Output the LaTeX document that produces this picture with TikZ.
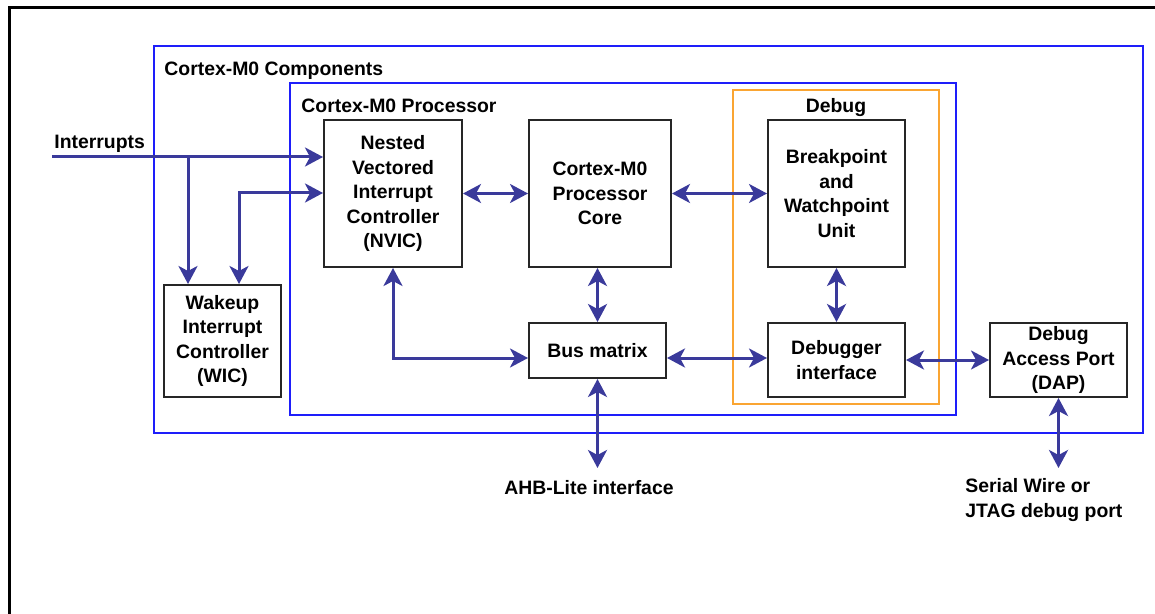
\documentclass[tikz,border=0pt]{standalone}
\usepackage{fontspec}
\setmainfont{Liberation Sans}
\usetikzlibrary{arrows.meta}
\definecolor{arrowc}{RGB}{58,58,155}
\definecolor{regionblue}{RGB}{30,30,250}
\definecolor{dbgorange}{RGB}{250,165,50}
\begin{document}
\begin{tikzpicture}[x=0.5pt,y=-0.5pt,
  lbl/.style={font=\fontsize{9.7}{12.25}\selectfont\bfseries, inner sep=0pt},
  blk/.style={draw=black!85, line width=1pt, fill=white, align=center,
     inner sep=0pt, font=\fontsize{9.7}{12.25}\selectfont\bfseries},
  region/.style={draw=regionblue, line width=1pt},
  dbgregion/.style={draw=dbgorange, line width=1pt},
  conn/.style={draw=arrowc, line width=1.5pt},
  bi/.style={conn, {Stealth[length=9pt,width=9.5pt,inset=2.5pt]}-{Stealth[length=9pt,width=9.5pt,inset=2.5pt]}},
  uni/.style={conn, -{Stealth[length=9pt,width=9.5pt,inset=2.5pt]}}
]
\useasboundingbox (0,0) rectangle (1155,614);
% outer frame (partially visible)
\draw[line width=1.5pt, black] (9,614) -- (9,8) -- (1155,8);

% regions
\draw[region] (154,46) rectangle (1143,433);
\draw[region] (290,83) rectangle (956,415);
\draw[dbgregion] (733,90) rectangle (939,404);

\node[lbl, anchor=base west] (lcomp) at (164,76) {Cortex-M0 Components};
\node[lbl, anchor=base west] (lproc) at (301,113) {Cortex-M0 Processor};
\node[lbl, anchor=base] (ldbg) at (836,113) {Debug};

% blocks
\node[blk, minimum width=69pt, minimum height=73.5pt] (nvic) at (393,193.5)
  {Nested\\Vectored\\Interrupt\\Controller\\(NVIC)};
\node[blk, minimum width=71pt, minimum height=73.5pt] (core) at (600,193.5)
  {Cortex-M0\\Processor\\Core};
\node[blk, minimum width=68.5pt, minimum height=73.5pt] (bwu) at (836.5,193.5)
  {Breakpoint\\and\\Watchpoint\\Unit};
\node[blk, minimum width=68.5pt, minimum height=27.5pt] (bus) at (597.5,350.5)
  {Bus matrix};
\node[blk, minimum width=68.5pt, minimum height=37pt] (dbgi) at (836.5,360)
  {Debugger\\interface};
\node[blk, minimum width=68.5pt, minimum height=37pt] (dap) at (1058.5,360)
  {Debug\\Access Port\\(DAP)};
\node[blk, minimum width=58.5pt, minimum height=56pt] (wic) at (222.5,341)
  {Wakeup\\Interrupt\\Controller\\(WIC)};

% external labels
\node[lbl, anchor=base west] (lint) at (54,149) {Interrupts};
\node[lbl, anchor=base] (lahb) at (589,494) {AHB-Lite interface};
\node[lbl, anchor=base west, align=left] (lswd) at (965,517) {Serial Wire or\\JTAG debug port};

% coordinates
\coordinate (intstart) at (52,157);
\coordinate (intbranch) at (188,157);
\coordinate (wicret) at (239,193);
\coordinate (nvicbus) at (393,358);
\coordinate (ahbend) at (597.5,468);
\coordinate (swdend) at (1058.5,468);

% connectors
\draw[uni] (intstart) -- (nvic.west |- intstart);
\draw[uni] (intbranch) -- (intbranch |- wic.north);
\draw[bi] (wicret |- wic.north) -- (wicret) -- (nvic.west |- wicret);
\draw[bi] (nvic.east) -- (core.west);
\draw[bi] (core.east) -- (bwu.west);
\draw[bi] (bus.north) -- (bus.north |- core.south);
\draw[bi] (dbgi.north) -- (bwu.south);
\draw[bi] (nvic.south) -- (nvicbus) -- (bus.west |- nvicbus);
\draw[bi] (bus.east |- nvicbus) -- (dbgi.west |- nvicbus);
\draw[bi] (dbgi.east) -- (dap.west);
\draw[bi] (bus.south) -- (ahbend);
\draw[bi] (dap.south) -- (swdend);
\end{tikzpicture}
\end{document}
